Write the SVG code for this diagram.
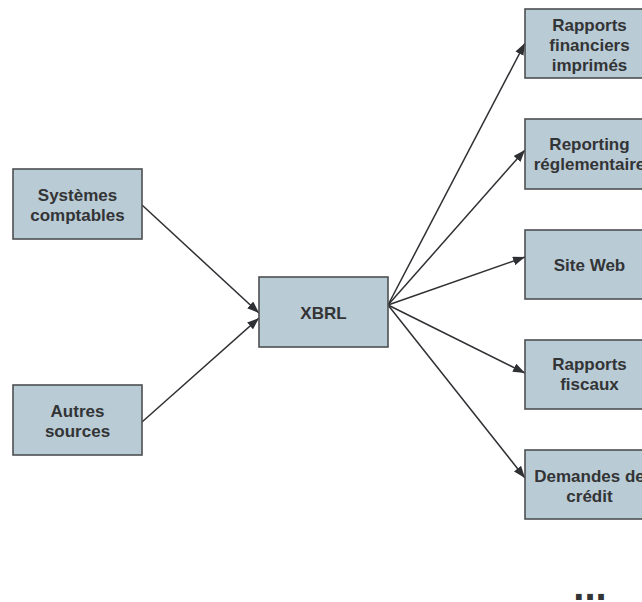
<svg xmlns="http://www.w3.org/2000/svg" width="642" height="602" viewBox="0 0 642 602">
<style>
.box{fill:#b9cbd5;stroke:#4d4f52;stroke-width:1.6}
.t{font-family:"Liberation Sans",Arial,sans-serif;font-weight:bold;font-size:17px;fill:#333436;text-anchor:middle}
.c{stroke:#2f3033;stroke-width:1.5;fill:none;marker-end:url(#ah)}
</style>
<defs>
<marker id="ah" viewBox="0 0 12 9" refX="12" refY="4.5" markerWidth="12" markerHeight="9" markerUnits="userSpaceOnUse" orient="auto">
<path d="M0,0 L12,4.5 L0,9 Z" fill="#2f3033"/>
</marker>
</defs>
<g id="connectors">
<line class="c" x1="142" y1="205" x2="259" y2="313"/>
<line class="c" x1="142" y1="422" x2="259" y2="318"/>
<line class="c" x1="388" y1="305" x2="525" y2="43"/>
<line class="c" x1="388" y1="305" x2="525" y2="150"/>
<line class="c" x1="388" y1="305" x2="525" y2="257"/>
<line class="c" x1="388" y1="305" x2="525" y2="373"/>
<line class="c" x1="388" y1="305" x2="525" y2="478"/>
</g>
<g id="systemes">
<rect class="box" x="13" y="169" width="129" height="70"/>
<text class="t" x="77.5" y="201">Systèmes</text>
<text class="t" x="77.5" y="221">comptables</text>
</g>
<g id="autres">
<rect class="box" x="13" y="385" width="129" height="70"/>
<text class="t" x="77.5" y="417">Autres</text>
<text class="t" x="77.5" y="437">sources</text>
</g>
<g id="xbrl">
<rect class="box" x="259" y="277" width="129" height="70"/>
<text class="t" x="323.5" y="319">XBRL</text>
</g>
<g id="rapports-financiers">
<rect class="box" x="525" y="9" width="129" height="69"/>
<text class="t" x="589.5" y="31">Rapports</text>
<text class="t" x="589.5" y="51">financiers</text>
<text class="t" x="589.5" y="71">imprimés</text>
</g>
<g id="reporting">
<rect class="box" x="525" y="119" width="129" height="70"/>
<text class="t" x="589.5" y="150">Reporting</text>
<text class="t" x="589.5" y="170">réglementaire</text>
</g>
<g id="site-web">
<rect class="box" x="525" y="230" width="129" height="69"/>
<text class="t" x="589.5" y="271">Site Web</text>
</g>
<g id="rapports-fiscaux">
<rect class="box" x="525" y="340" width="129" height="69"/>
<text class="t" x="589.5" y="370">Rapports</text>
<text class="t" x="589.5" y="390">fiscaux</text>
</g>
<g id="demandes">
<rect class="box" x="525" y="450" width="129" height="69"/>
<text class="t" x="589.5" y="482">Demandes de</text>
<text class="t" x="589.5" y="502">crédit</text>
</g>
<text class="t" x="590" y="600" style="font-size:40px">...</text>
</svg>
